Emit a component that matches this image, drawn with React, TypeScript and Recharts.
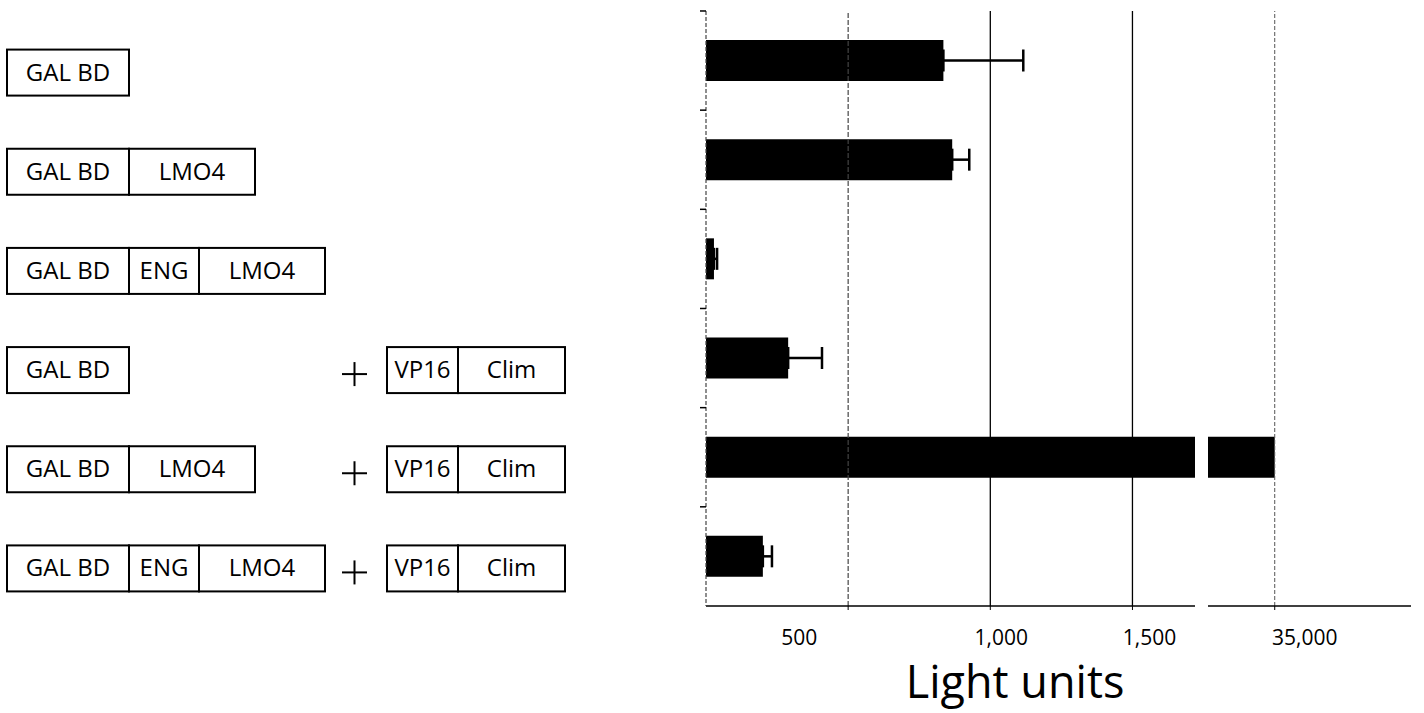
import React from 'react';
import { BarChart, Bar, XAxis, YAxis, ErrorBar, ReferenceLine, Label } from 'recharts';

// Two-hybrid constructs: GAL4 DNA-binding fusions (bait) and VP16 fusions (prey)
const BAITS = [
  ['GAL BD'],
  ['GAL BD', 'LMO4'],
  ['GAL BD', 'ENG', 'LMO4'],
  ['GAL BD'],
  ['GAL BD', 'LMO4'],
  ['GAL BD', 'ENG', 'LMO4'],
];
const PREYS = [[], [], [], ['VP16', 'Clim'], ['VP16', 'Clim'], ['VP16', 'Clim']];

// luciferase readout and top of error bar
const LIGHT_UNITS = [835, 866, 28, 289, 35000, 200];
const ERROR_TOP = [1116, 926, 39, 408, null, 232];

// broken x axis: low part and high part
const LOW_DOMAIN = [0, 1720];
const LOW_TICKS = [500, 1000, 1500];
const HIGH_DOMAIN = [34765, 35480];
const HIGH_TICKS = [35000];

const FONT = '"Open Sans", "Noto Sans", sans-serif';

const rows = BAITS.map((bait, i) => ({
  id: bait.join('-') + '+' + PREYS[i].join('-'),
  bait,
  prey: PREYS[i],
  value: LIGHT_UNITS[i],
  err: ERROR_TOP[i] != null ? [0, (ERROR_TOP[i] as number) - LIGHT_UNITS[i]] : null,
  high: LIGHT_UNITS[i] > HIGH_DOMAIN[0] ? LIGHT_UNITS[i] : null,
}));

// box widths of each protein domain in the construct drawings
const SEG_W: Record<string, number> = { 'GAL BD': 122, LMO4: 126, ENG: 70, VP16: 71, Clim: 107 };
// hand placed tick labels, as in the original figure
const LABEL_SHIFT: Record<number, number> = { 500: -49, 1000: 11, 1500: 17, 35000: 30 };

function Segments({ parts, x0, cy }: { parts: string[]; x0: number; cy: number }) {
  let x = x0;
  return (
    <g>
      {parts.map((p, k) => {
        const w = SEG_W[p];
        const el = (
          <g key={k}>
            <rect x={x} y={cy - 23} width={w} height={46} fill="#fff" stroke="#000" strokeWidth={2} />
            <text x={x + w / 2} y={cy + 8} textAnchor="middle" fontSize={24} fontFamily={FONT} fill="#000">
              {p}
            </text>
          </g>
        );
        x += w;
        return el;
      })}
    </g>
  );
}

function ConstructTick(props: any) {
  const { y, payload } = props;
  const row = rows.find(r => r.id === payload.value);
  if (!row) return null;
  const cy = y + 12;
  return (
    <g>
      <line x1={700} x2={706} y1={y - 49.6} y2={y - 49.6} stroke="#000" strokeWidth={1.5} />
      <Segments parts={row.bait} x0={7} cy={cy} />
      {row.prey.length > 0 && (
        <g>
          <line x1={342} x2={367} y1={cy + 4} y2={cy + 4} stroke="#000" strokeWidth={2} />
          <line x1={354.5} x2={354.5} y1={cy - 8} y2={cy + 16} stroke="#000" strokeWidth={2} />
          <Segments parts={row.prey} x0={387} cy={cy} />
        </g>
      )}
    </g>
  );
}

function LightTick(props: any) {
  const { x, y, payload } = props;
  return (
    <text
      x={x + (LABEL_SHIFT[payload.value] ?? 0)}
      y={y + 33}
      textAnchor="middle"
      fontSize={21}
      fontFamily={FONT}
      fill="#000"
    >
      {Number(payload.value).toLocaleString('en-US')}
    </text>
  );
}

function AxisTitle(props: any) {
  const { viewBox } = props;
  return (
    <text
      x={viewBox.x + viewBox.width * 0.632}
      y={viewBox.y + 92}
      textAnchor="middle"
      fontSize={45}
      fontFamily={FONT}
      fill="#000"
    >
      Light units
    </text>
  );
}

export default function App() {
  return (
    <div style={{ position: 'absolute', left: 0, top: 0, width: 1424, height: 713, background: '#fff' }}>
      <div style={{ position: 'absolute', left: 0, top: 0 }}>
        <BarChart
          width={1200}
          height={713}
          data={rows}
          layout="vertical"
          margin={{ top: 11, right: 5, bottom: 7, left: 0 }}
        >
          <XAxis
            type="number"
            domain={LOW_DOMAIN}
            ticks={LOW_TICKS}
            interval={0}
            allowDataOverflow
            height={100}
            axisLine={{ stroke: '#000', strokeWidth: 1.5 }}
            tickLine={{ stroke: '#000' }}
            tickSize={4}
            tick={<LightTick />}
          >
            <Label content={<AxisTitle />} />
          </XAxis>
          <YAxis
            type="category"
            dataKey="id"
            width={706}
            axisLine={{ stroke: '#444', strokeWidth: 1.2, strokeDasharray: '4 2' }}
            tickLine={false}
            tick={<ConstructTick />}
          />
          <ReferenceLine x={500} stroke="#444" strokeWidth={1.2} strokeDasharray="5 2" />
          <ReferenceLine x={1000} stroke="#000" strokeWidth={1.3} />
          <ReferenceLine x={1500} stroke="#000" strokeWidth={1.3} />
          <Bar dataKey="value" fill="#000" barSize={41} isAnimationActive={false}>
            <ErrorBar dataKey="err" direction="x" width={11} stroke="#000" strokeWidth={2.5} isAnimationActive={false} />
          </Bar>
        </BarChart>
      </div>
      <div style={{ position: 'absolute', left: 1200, top: 0 }}>
        <BarChart
          width={224}
          height={713}
          data={rows}
          layout="vertical"
          margin={{ top: 11, right: 13, bottom: 7, left: 8 }}
        >
          <XAxis
            type="number"
            domain={HIGH_DOMAIN}
            ticks={HIGH_TICKS}
            interval={0}
            allowDataOverflow
            height={100}
            axisLine={{ stroke: '#000', strokeWidth: 1.5 }}
            tickLine={{ stroke: '#000' }}
            tickSize={4}
            tick={<LightTick />}
          />
          <YAxis type="category" dataKey="id" hide />
          <ReferenceLine x={35000} stroke="#555" strokeWidth={1} strokeDasharray="4 2" />
          <Bar dataKey="high" fill="#000" barSize={41} isAnimationActive={false} />
        </BarChart>
      </div>
    </div>
  );
}
